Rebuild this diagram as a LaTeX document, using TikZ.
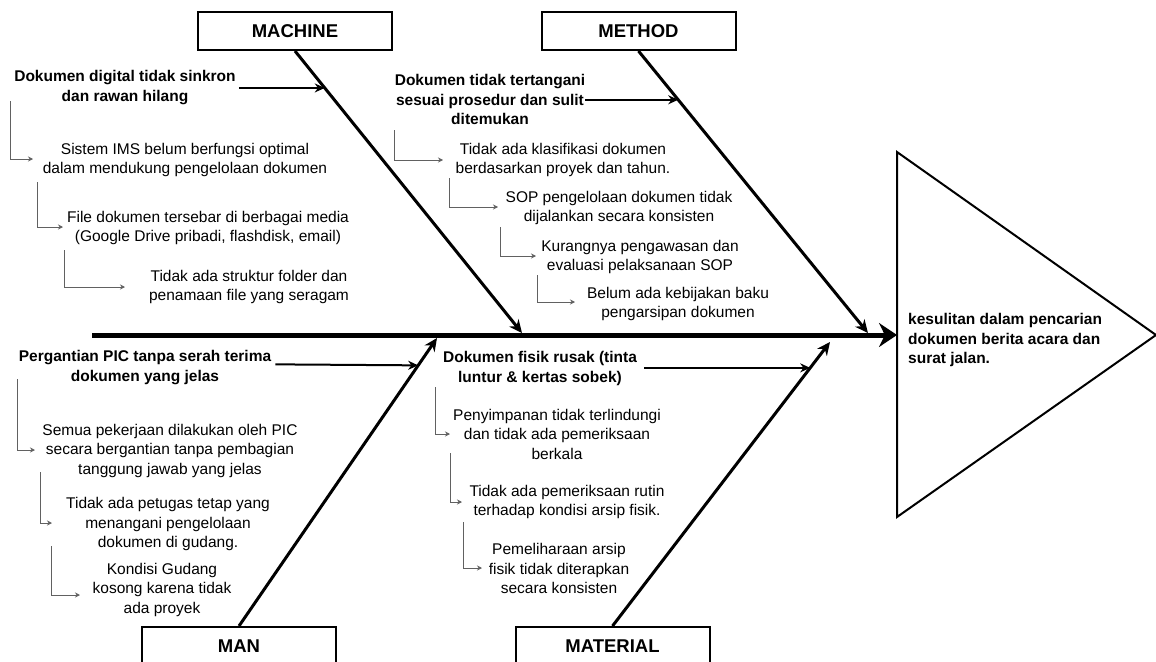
\documentclass[tikz,border=0pt]{standalone}
\usepackage{fontspec}
\setmainfont{Liberation Sans}
\usetikzlibrary{arrows.meta,calc}
\begin{document}
\begin{tikzpicture}[x=1pt,y=-1pt,
  txt/.style={align=center,inner sep=0pt,font=\fontsize{15.5}{19.5}\selectfont},
  btxt/.style={txt,font=\fontsize{15.5}{19.5}\selectfont\bfseries},
  catbox/.style={draw,line width=2pt,minimum width=194pt,minimum height=38pt,inner sep=0pt,font=\fontsize{18.5}{22}\selectfont\bfseries},
  spinearrow/.style={line width=5pt,-{Stealth[length=18pt,width=24pt]}},
  branch/.style={line width=3pt,-{Stealth[length=13pt,width=12pt]}},
  causearrow/.style={line width=2pt,-{Stealth[length=10pt,width=9pt]}},
  subarrow/.style={draw=black!62,line width=1pt,-{Stealth[length=5pt,width=5pt]}}
]
\useasboundingbox (0,0) rectangle (1156,661);
\clip (0,0) rectangle (1156,661);
\fill[white] (0,0) rectangle (1156,661);

% effect triangle
\coordinate (ttop) at (897,152);
\coordinate (tbot) at (897,517);
\coordinate (tapex) at (1156,335);
\coordinate (tleft) at (897,335);
\draw[line width=2pt,line join=miter] (ttop) -- (tapex) -- (tbot) -- cycle;
\node[btxt,align=left,anchor=west] (effect) at (908,340) {kesulitan dalam pencarian\\dokumen berita acara dan\\surat jalan.};

% spine
\coordinate (spinestart) at (92,335);
\draw[spinearrow] (spinestart) -- (tleft);

% category boxes
\node[catbox] (machine) at (295,31) {MACHINE};
\node[catbox] (method) at (638.5,31) {METHOD};
\node[catbox] (man) at (239,646) {MAN};
\node[catbox] (material) at (612.5,646) {MATERIAL};

% branch tips
\coordinate (machtip) at (522,333);
\coordinate (methtip) at (868,333);
\coordinate (mantip) at (437,338);
\coordinate (mattip) at (830,342);
\draw[branch] (machine.south) -- (machtip);
\draw[branch] (method.south) -- (methtip);
\draw[branch] (man.north) -- (mantip);
\draw[branch] (material.north) -- (mattip);

% main causes
\node[btxt] (machcause) at (125,87.5) {Dokumen digital tidak sinkron\\dan rawan hilang};
\coordinate (machpt) at ($(machine.south)!0.131!(machtip)$);
\draw[causearrow] ([xshift=3pt]machcause.east |- machpt) -- (machpt);

\node[btxt] (methcause) at (490,99.5) {Dokumen tidak tertangani\\sesuai prosedur dan sulit\\ditemukan};
\coordinate (methpt) at ($(method.south)!0.173!(methtip)$);
\draw[causearrow] (methcause.east |- methpt) -- (methpt);

\node[btxt] (mancause) at (145,367.5) {Pergantian PIC tanpa serah terima\\dokumen yang jelas};
\coordinate (manpt) at ($(man.north)!0.905!(mantip)$);
\draw[causearrow] ([xshift=4pt,yshift=1pt]mancause.east |- manpt) -- (manpt);

\node[btxt] (matcause) at (540,368.5) {Dokumen fisik rusak (tinta\\luntur \& kertas sobek)};
\coordinate (matpt) at ($(material.north)!0.909!(mattip)$);
\draw[causearrow] ([xshift=7pt]matcause.east |- matpt) -- (matpt);

% machine sub-causes
\node[txt] (m1) at (185,160) {Sistem IMS belum berfungsi optimal\\dalam mendukung pengelolaan dokumen};
\node[txt] (m2) at (208,228) {File dokumen tersebar di berbagai media\\(Google Drive pribadi, flashdisk, email)};
\node[txt] (m3) at (249,287) {Tidak ada struktur folder dan\\penamaan file yang seragam};
\coordinate (m1s) at (10,101);
\coordinate (m2s) at (37,182);
\coordinate (m3s) at (64,250);
\coordinate (m1e) at (33,159);
\coordinate (m2e) at (63,227);
\coordinate (m3e) at (125,287);
\draw[subarrow] (m1s) |- (m1e);
\draw[subarrow] (m2s) |- (m2e);
\draw[subarrow] (m3s) |- (m3e);

% method sub-causes
\node[txt] (t1) at (563,160) {Tidak ada klasifikasi dokumen\\berdasarkan proyek dan tahun.};
\node[txt] (t2) at (619,208) {SOP pengelolaan dokumen tidak\\dijalankan secara konsisten};
\node[txt] (t3) at (640,257) {Kurangnya pengawasan dan\\evaluasi pelaksanaan SOP};
\node[txt] (t4) at (678,304) {Belum ada kebijakan baku\\pengarsipan dokumen};
\coordinate (t1s) at (394,130);
\coordinate (t2s) at (449,178);
\coordinate (t3s) at (500,227);
\coordinate (t4s) at (537,275);
\coordinate (t1e) at (443,160);
\coordinate (t2e) at (498,207);
\coordinate (t3e) at (536,256);
\coordinate (t4e) at (575,302);
\draw[subarrow] (t1s) |- (t1e);
\draw[subarrow] (t2s) |- (t2e);
\draw[subarrow] (t3s) |- (t3e);
\draw[subarrow] (t4s) |- (t4e);

% man sub-causes
\node[txt] (n1) at (170,450.5) {Semua pekerjaan dilakukan oleh PIC\\secara bergantian tanpa pembagian\\tanggung jawab yang jelas};
\node[txt] (n2) at (168,524) {Tidak ada petugas tetap yang\\menangani pengelolaan\\dokumen di gudang.};
\node[txt] (n3) at (162,589.5) {Kondisi Gudang\\kosong karena tidak\\ada proyek};
\coordinate (n1s) at (17,379);
\coordinate (n2s) at (40,472);
\coordinate (n3s) at (51,546);
\coordinate (n1e) at (35,450);
\coordinate (n2e) at (52,523);
\coordinate (n3e) at (80,595);
\draw[subarrow] (n1s) |- (n1e);
\draw[subarrow] (n2s) |- (n2e);
\draw[subarrow] (n3s) |- (n3e);

% material sub-causes
\node[txt] (p1) at (557,434) {Penyimpanan tidak terlindungi\\dan tidak ada pemeriksaan\\berkala};
\node[txt] (p2) at (567,502) {Tidak ada pemeriksaan rutin\\terhadap kondisi arsip fisik.};
\node[txt] (p3) at (559,568.5) {Pemeliharaan arsip\\fisik tidak diterapkan\\secara konsisten};
\coordinate (p1s) at (435,387);
\coordinate (p2s) at (450,453);
\coordinate (p3s) at (463,522);
\coordinate (p1e) at (450,434);
\coordinate (p2e) at (462,502);
\coordinate (p3e) at (482,568);
\draw[subarrow] (p1s) |- (p1e);
\draw[subarrow] (p2s) |- (p2e);
\draw[subarrow] (p3s) |- (p3e);
\end{tikzpicture}
\end{document}
